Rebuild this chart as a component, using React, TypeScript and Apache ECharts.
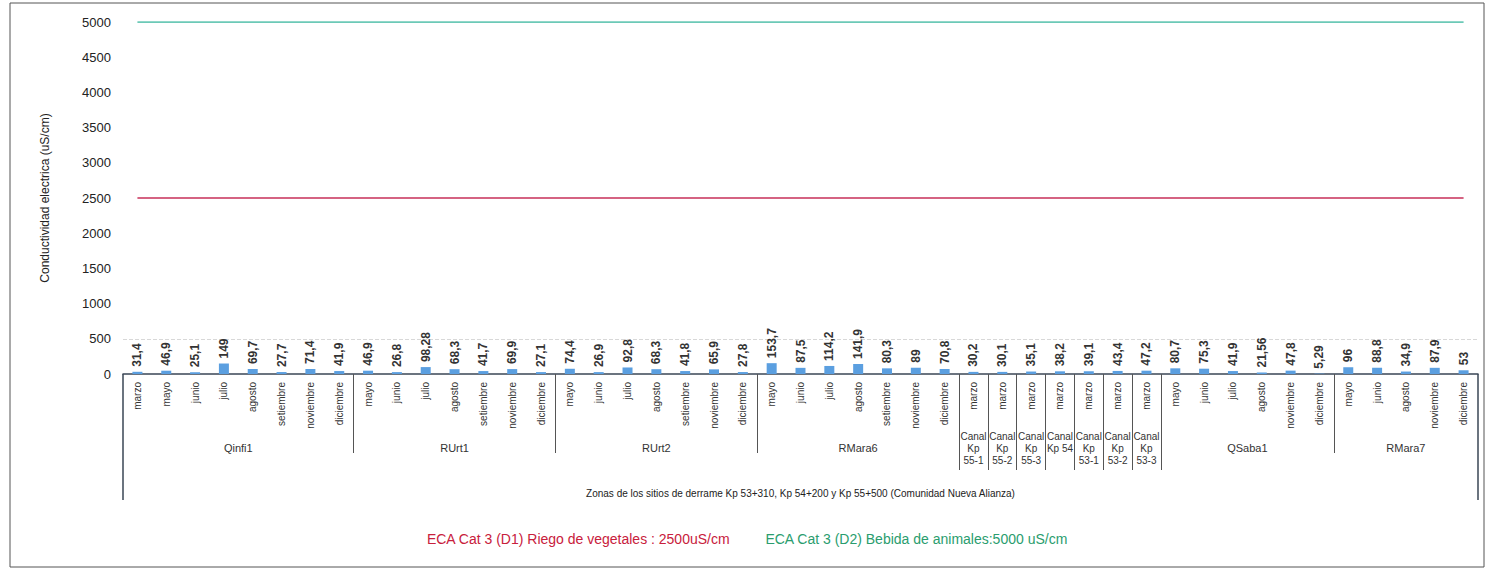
import React, { useEffect, useRef } from 'react';
import * as echarts from 'echarts';

const months = [
  'marzo', 'mayo', 'junio', 'julio', 'agosto', 'setiembre', 'noviembre', 'diciembre',
  'mayo', 'junio', 'julio', 'agosto', 'setiembre', 'noviembre', 'diciembre',
  'mayo', 'junio', 'julio', 'agosto', 'setiembre', 'noviembre', 'diciembre',
  'mayo', 'junio', 'julio', 'agosto', 'setiembre', 'noviembre', 'diciembre',
  'marzo', 'marzo', 'marzo', 'marzo', 'marzo', 'marzo', 'marzo',
  'mayo', 'junio', 'julio', 'agosto', 'noviembre', 'diciembre',
  'mayo', 'junio', 'agosto', 'noviembre', 'diciembre',
];

const conductivity = [
  31.4, 46.9, 25.1, 149, 69.7, 27.7, 71.4, 41.9,
  46.9, 26.8, 98.28, 68.3, 41.7, 69.9, 27.1,
  74.4, 26.9, 92.8, 68.3, 41.8, 65.9, 27.8,
  153.7, 87.5, 114.2, 141.9, 80.3, 89, 70.8,
  30.2, 30.1, 35.1, 38.2, 39.1, 43.4, 47.2,
  80.7, 75.3, 41.9, 21.56, 47.8, 5.29,
  96, 88.8, 34.9, 87.9, 53,
];

const groupNames = [
  'Qinfi1', 'RUrt1', 'RUrt2', 'RMara6',
  'Canal\nKp\n55-1', 'Canal\nKp\n55-2', 'Canal\nKp\n55-3', 'Canal\nKp 54',
  'Canal\nKp\n53-1', 'Canal\nKp\n53-2', 'Canal\nKp\n53-3',
  'QSaba1', 'RMara7',
];
const groupSizes = [8, 7, 7, 7, 1, 1, 1, 1, 1, 1, 1, 6, 5];

const d1Limit = 2500;
const d2Limit = 5000;
const d1Name = 'ECA Cat 3 (D1) Riego de vegetales : 2500uS/cm';
const d2Name = 'ECA Cat 3 (D2) Bebida de animales:5000 uS/cm';
const xTitle = 'Zonas de los sitios de derrame Kp 53+310, Kp 54+200 y Kp 55+500 (Comunidad Nueva Alianza)';
const yTitle = 'Conductividad electrica (uS/cm)';

export default function App() {
  const ref = useRef<HTMLDivElement>(null);
  useEffect(() => {
    document.body.style.margin = '0';
    if (!ref.current) return;
    const chart = echarts.init(ref.current, undefined, { renderer: 'svg' });
    const n = months.length;
    const halfCount = 2 * n + 1;
    const halfPoints = Array.from({ length: halfCount }, (_, i) => String(i));

    const bigLabels: Record<number, string> = {};
    const canalLabels: Record<number, string> = {};
    const bigBounds = new Set<number>();
    const canalBounds = new Set<number>();
    let start = 0;
    groupSizes.forEach((s, gi) => {
      const k0 = 2 * start;
      const k1 = 2 * (start + s);
      const center = k0 + s;
      if (s > 1) {
        bigLabels[center] = groupNames[gi];
        bigBounds.add(k0);
        bigBounds.add(k1);
      } else {
        canalLabels[center] = groupNames[gi];
        canalBounds.add(k0);
        canalBounds.add(k1);
      }
      start += s;
    });
    bigBounds.delete(0);
    bigBounds.delete(2 * n);
    const midK = n;

    const fmt = (v: number) => String(v).replace('.', ',');
    const font = 'Liberation Sans, Arial, sans-serif';

    const hiddenAxisBase = {
      type: 'category' as const,
      data: halfPoints,
      boundaryGap: false,
      position: 'bottom' as const,
      gridIndex: 0,
      axisLine: { show: false },
      splitLine: { show: false },
    };

    chart.setOption({
      animation: false,
      textStyle: { fontFamily: font },
      grid: { left: 123, right: 12, top: 22, bottom: 198, containLabel: false },
      legend: {
        bottom: 21,
        left: 'center',
        itemGap: 30,
        icon: 'none',
        itemWidth: 0,
        data: [
          { name: d1Name, textStyle: { color: '#c8203c', fontSize: 14 } },
          { name: d2Name, textStyle: { color: '#2a9d6e', fontSize: 14 } },
        ],
      },
      xAxis: [
        {
          type: 'category',
          data: months,
          position: 'bottom',
          axisLine: { show: true, lineStyle: { color: '#3a4655', width: 1.5 } },
          axisTick: { show: false },
          axisLabel: { rotate: 90, fontSize: 10, color: '#333', margin: 8, interval: 0 },
        },
        {
          ...hiddenAxisBase,
          axisTick: {
            show: true,
            length: 79,
            interval: (i: number) => bigBounds.has(i),
            lineStyle: { color: '#555', width: 1 },
          },
          axisLabel: {
            interval: 0,
            margin: 68,
            fontSize: 11,
            color: '#333',
            formatter: (_v: string, i: number) => bigLabels[i] || '',
          },
        },
        {
          ...hiddenAxisBase,
          axisTick: {
            show: true,
            length: 96,
            interval: (i: number) => canalBounds.has(i),
            lineStyle: { color: '#555', width: 1 },
          },
          axisLabel: {
            interval: 0,
            margin: 56,
            fontSize: 10,
            lineHeight: 12,
            color: '#333',
            formatter: (_v: string, i: number) => canalLabels[i] || '',
          },
        },
        {
          ...hiddenAxisBase,
          axisTick: {
            show: true,
            length: 126,
            interval: (i: number) => i === 0 || i === 2 * n,
            lineStyle: { color: '#3a4655', width: 1.5 },
          },
          axisLabel: {
            interval: 0,
            margin: 114,
            fontSize: 10,
            color: '#222',
            formatter: (_v: string, i: number) => (i === midK ? xTitle : ''),
          },
        },
      ],
      yAxis: {
        type: 'value',
        min: 0,
        max: 5000,
        interval: 500,
        name: yTitle,
        nameLocation: 'middle',
        nameGap: 72,
        nameTextStyle: { fontSize: 12, color: '#222' },
        axisLine: { show: false },
        axisTick: { show: false },
        axisLabel: { fontSize: 13, color: '#222', margin: 12, formatter: (v: number) => String(v) },
        splitLine: {
          show: true,
          lineStyle: {
            color: ['transparent', '#d8d8d8', 'transparent', 'transparent', 'transparent', 'transparent', 'transparent', 'transparent', 'transparent', 'transparent', 'transparent'],
            type: 'dashed',
          },
        },
      },
      series: [
        {
          type: 'bar',
          name: 'Conductividad',
          xAxisIndex: 0,
          data: conductivity,
          barWidth: 10,
          itemStyle: { color: '#5b9fe0' },
          label: {
            show: true,
            position: 'top',
            rotate: 90,
            align: 'left',
            verticalAlign: 'middle',
            distance: 5,
            fontSize: 12,
            fontWeight: 'bold',
            color: '#333',
            formatter: (p: any) => fmt(p.value),
          },
        },
        {
          type: 'line',
          name: d1Name,
          xAxisIndex: 0,
          data: months.map(() => d1Limit),
          symbol: 'none',
          lineStyle: { color: '#c8305a', width: 1.5 },
          itemStyle: { color: '#c8305a' },
        },
        {
          type: 'line',
          name: d2Name,
          xAxisIndex: 0,
          data: months.map(() => d2Limit),
          symbol: 'none',
          lineStyle: { color: '#3db8a0', width: 1.5 },
          itemStyle: { color: '#3db8a0' },
        },
      ],
      graphic: [
        {
          type: 'rect',
          shape: { x: 10, y: 3, width: 1474, height: 564 },
          style: { fill: 'none', stroke: '#555', lineWidth: 1 },
          silent: true,
        },
      ],
    });
    return () => chart.dispose();
  }, []);
  return <div ref={ref} style={{ width: 1490, height: 572 }} />;
}
